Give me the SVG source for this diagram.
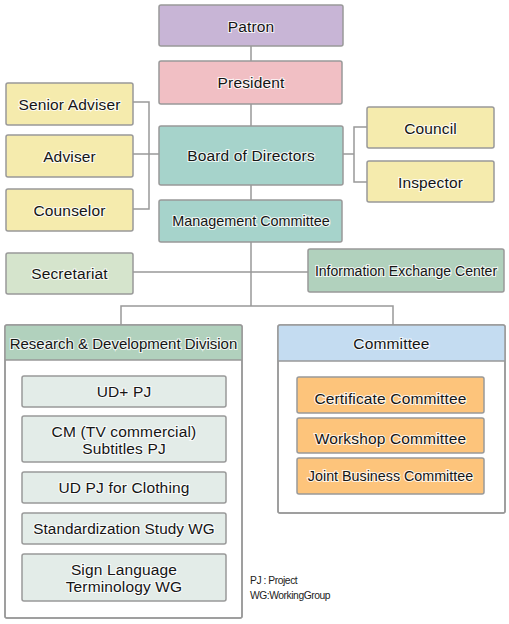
<svg xmlns="http://www.w3.org/2000/svg" width="509" height="624" viewBox="0 0 509 624">
<style>
.b{stroke:#999;stroke-width:1.5}
.t{font-family:"Liberation Sans",Arial,sans-serif;font-size:15.5px;letter-spacing:0.15px;fill:#151515;text-anchor:middle;dominant-baseline:central;stroke:#fff;stroke-width:2.2;stroke-opacity:0.8;paint-order:stroke}
.s{font-size:14.4px;letter-spacing:0}
.r{font-size:15px;letter-spacing:0}
.ln{fill:none;stroke:#999;stroke-width:1.5}
.n{font-family:"Liberation Sans",Arial,sans-serif;font-size:10.3px;fill:#222;letter-spacing:-0.45px}
</style>
<rect width="509" height="624" fill="#fff"/>
<g id="connectors" class="ln">
<path d="M251 46V61M251 104V126M251 185V200M251 242V306"/>
<path d="M133 102H149V209H133M133 154H159"/>
<path d="M343 154H354M367 127H354V182H367"/>
<path d="M133 272H308"/>
<path d="M121 325V306H393V325"/>
</g>
<g id="patron"><rect class="b" x="159" y="5" width="184" height="41" rx="2" fill="#c8b5d6"/><text class="t" x="251" y="26">Patron</text></g>
<g id="president"><rect class="b" x="159" y="61" width="183" height="43" rx="2" fill="#f1bfc4"/><text class="t" x="251" y="82.5">President</text></g>
<g id="board"><rect class="b" x="159" y="126" width="184" height="59" rx="2" fill="#a6d3cb"/><text class="t" x="251" y="155.5">Board of Directors</text></g>
<g id="management"><rect class="b" x="159" y="200" width="183" height="42" rx="2" fill="#a6d3cb"/><text class="t s" x="251" y="221">Management Committee</text></g>
<g id="senior-adviser"><rect class="b" x="6" y="83" width="127" height="42" rx="2" fill="#f5ebad"/><text class="t" x="69.5" y="104">Senior Adviser</text></g>
<g id="adviser"><rect class="b" x="6" y="135" width="127" height="42" rx="2" fill="#f5ebad"/><text class="t" x="69.5" y="156">Adviser</text></g>
<g id="counselor"><rect class="b" x="6" y="189" width="127" height="42" rx="2" fill="#f5ebad"/><text class="t" x="69.5" y="210">Counselor</text></g>
<g id="council"><rect class="b" x="367" y="107" width="127" height="41" rx="2" fill="#f5ebad"/><text class="t" x="430.5" y="128">Council</text></g>
<g id="inspector"><rect class="b" x="367" y="161" width="127" height="41" rx="2" fill="#f5ebad"/><text class="t" x="430.5" y="182">Inspector</text></g>
<g id="secretariat"><rect class="b" x="6" y="253" width="127" height="41" rx="2" fill="#d5e4cc"/><text class="t" x="69.5" y="273.5">Secretariat</text></g>
<g id="info-exchange"><rect class="b" x="308" y="249" width="196" height="43" rx="2" fill="#b1d1bd"/><text class="t s" x="406" y="270.5" style="font-size:14px">Information Exchange Center</text></g>
<g id="rd-division">
<rect class="b" x="5" y="325" width="237" height="293" rx="2" fill="#fff"/>
<path d="M5 360V327a2 2 0 0 1 2-2H240a2 2 0 0 1 2 2V360Z" fill="#b1d1bd"/>
<path class="ln" d="M5 360H242"/>
<rect class="b" x="5" y="325" width="237" height="293" rx="2" fill="none"/>
<text class="t r" x="123.5" y="343">Research &amp; Development Division</text>
</g>
<g id="ud-plus"><rect class="b" x="22" y="376" width="204" height="31" rx="2" fill="#e3ece8"/><text class="t" x="124" y="391.5">UD+ PJ</text></g>
<g id="cm-subtitles"><rect class="b" x="22" y="416" width="204" height="46" rx="2" fill="#e3ece8"/><text class="t" x="124" y="431">CM (TV commercial)</text><text class="t" x="124" y="448">Subtitles PJ</text></g>
<g id="ud-clothing"><rect class="b" x="22" y="472" width="204" height="31" rx="2" fill="#e3ece8"/><text class="t" x="124" y="487.5">UD PJ for Clothing</text></g>
<g id="standardization"><rect class="b" x="22" y="513" width="204" height="31" rx="2" fill="#e3ece8"/><text class="t" x="124" y="528.5" style="font-size:15.3px;letter-spacing:0.05px">Standardization Study WG</text></g>
<g id="sign-language"><rect class="b" x="22" y="554" width="204" height="47" rx="2" fill="#e3ece8"/><text class="t" x="124" y="569">Sign Language</text><text class="t" x="124" y="586">Terminology WG</text></g>
<g id="committee">
<rect class="b" x="278" y="325" width="227" height="188" rx="2" fill="#fff"/>
<path d="M278 361V327a2 2 0 0 1 2-2H503a2 2 0 0 1 2 2V361Z" fill="#c4dcf1"/>
<path class="ln" d="M278 361H505"/>
<rect class="b" x="278" y="325" width="227" height="188" rx="2" fill="none"/>
<text class="t" x="391.5" y="343.5">Committee</text>
</g>
<g id="certificate"><rect class="b" x="297" y="377" width="187" height="36" rx="2" fill="#fdc47b"/><text class="t" x="390.5" y="398">Certificate Committee</text></g>
<g id="workshop"><rect class="b" x="297" y="418" width="187" height="35" rx="2" fill="#fdc47b"/><text class="t" x="390.5" y="438.5">Workshop Committee</text></g>
<g id="joint-business"><rect class="b" x="297" y="458" width="187" height="36" rx="2" fill="#fdc47b"/><text class="t s" x="390.5" y="476" style="font-size:14.3px">Joint Business Committee</text></g>
<g id="notes">
<text class="n" x="250" y="584">PJ : Project</text>
<text class="n" x="250" y="599">WG:WorkingGroup</text>
</g>
</svg>
